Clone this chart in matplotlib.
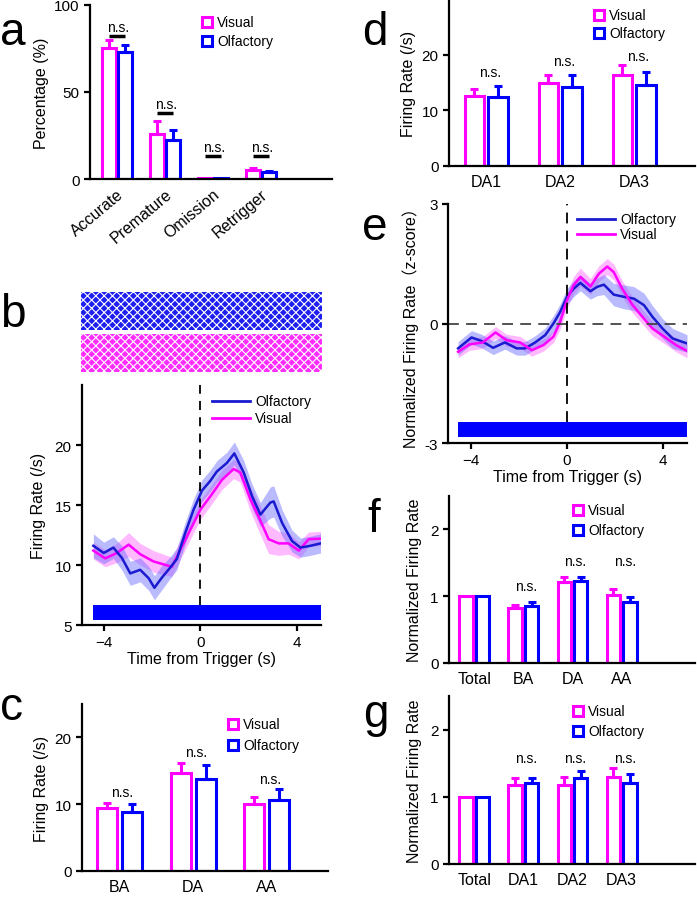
import numpy as np
import matplotlib
matplotlib.use('Agg')
import matplotlib.pyplot as plt
from matplotlib.lines import Line2D
from matplotlib.patches import Rectangle

plt.rcParams['font.family'] = ['Liberation Sans', 'Noto Sans CJK SC', 'DejaVu Sans']
plt.rcParams['axes.linewidth'] = 1.6
plt.rcParams['hatch.linewidth'] = 0.8

W, H = 697, 903
MAG = '#ff00ff'
BLU = '#0000ff'
BLU_LINE = '#1a1ad0'

# ---------------- data ----------------
# panel a
cats_a = ['Accurate', 'Premature', 'Omission', 'Retrigger']
vis_a = [75.5, 26.0, 0.5, 5.2]
vis_a_err = [4.5, 7.5, 0.0, 1.3]
olf_a = [73.0, 22.6, 0.5, 4.2]
olf_a_err = [4.0, 5.4, 0.0, 0.6]
ns_a = [82, 38, 13.2, 13.2]

# panel b (PSTH)
t_b_olf = [-4.43, -4.0, -3.6, -3.25, -2.9, -2.49, -2.14, -1.9, -1.59, -1.24, -0.97, -0.62, -0.28, 0.07,
           0.41, 0.69, 1.1, 1.41, 1.8, 2.14, 2.49, 2.9, 3.04, 3.39, 3.8, 4.15, 4.56, 4.98]
fr_b_olf = [11.6, 11.0, 11.45, 10.6, 9.3, 9.6, 8.9, 8.1, 8.95, 9.8, 10.5, 12.7, 14.6, 16.2,
            17.0, 17.8, 18.5, 19.3, 17.7, 15.75, 14.2, 15.2, 15.3, 13.5, 12.0, 11.45, 11.6, 11.8]
sem_b_olf = [1.0, 0.9, 0.9, 1.0, 1.0, 1.0, 1.0, 1.0, 1.0, 0.9, 0.9, 0.9, 0.9, 0.9,
             0.9, 0.9, 0.9, 0.95, 1.0, 1.0, 1.0, 1.3, 1.3, 1.1, 0.9, 0.8, 0.8, 0.8]
t_b_vis = [-4.43, -3.94, -3.46, -2.97, -2.49, -1.94, -1.18, -0.62, 0.0, 0.48, 0.9, 1.38, 1.66, 2.07,
           2.49, 2.83, 3.25, 3.66, 4.08, 4.49, 4.98]
fr_b_vis = [11.2, 10.55, 11.0, 11.7, 10.9, 10.3, 9.85, 12.1, 14.6, 15.9, 17.1, 18.0, 17.7, 15.5,
            13.7, 12.15, 11.8, 11.8, 11.2, 12.15, 12.2]
sem_b_vis = [0.7, 0.7, 0.8, 1.0, 0.9, 0.9, 0.8, 0.8, 0.8, 0.8, 0.8, 0.8, 0.8, 1.0,
             1.2, 1.2, 1.0, 0.9, 0.7, 0.6, 0.6]
b_trial_start, b_trial_end, b_trial_y0, b_trial_y1 = -4.44, 5.0, 5.4, 6.65

# panel c
cats_c = ['BA', 'DA', 'AA']
vis_c = [9.36, 14.6, 10.05]
vis_c_err = [0.8, 1.5, 1.05]
olf_c = [8.86, 13.8, 10.65]
olf_c_err = [1.1, 2.0, 1.65]
ns_c = [11.8, 17.8, 13.8]

# panel d
cats_d = ['DA1', 'DA2', 'DA3']
vis_d = [12.6, 15.0, 16.3]
vis_d_err = [1.2, 1.4, 1.9]
olf_d = [12.4, 14.2, 14.6]
olf_d_err = [1.9, 2.2, 2.3]
ns_d = [16.8, 18.9, 19.8]

# panel e (z-scored PSTH)
t_e_olf = [-4.53, -3.97, -3.55, -3.07, -2.58, -2.09, -1.74, -1.32, -0.9, -0.56, -0.28, 0.0, 0.28,
           0.56, 0.98, 1.26, 1.54, 1.95, 2.37, 2.79, 3.21, 3.56, 3.98, 4.4, 5.0]
z_e_olf = [-0.625, -0.35, -0.44, -0.61, -0.475, -0.625, -0.625, -0.475, -0.29, 0.0, 0.29, 0.67, 0.875,
           1.02, 0.81, 0.92, 0.975, 0.725, 0.67, 0.625, 0.46, 0.17, -0.125, -0.375, -0.5]
sem_e_olf = [0.17, 0.17, 0.17, 0.17, 0.17, 0.17, 0.17, 0.17, 0.18, 0.2, 0.2, 0.2, 0.2,
             0.2, 0.2, 0.22, 0.25, 0.28, 0.3, 0.3, 0.3, 0.28, 0.25, 0.25, 0.22]
t_e_vis = [-4.53, -4.06, -3.5, -2.97, -2.51, -1.95, -1.46, -0.97, -0.56, -0.28, 0.0, 0.28, 0.56,
           0.98, 1.33, 1.68, 1.95, 2.3, 2.72, 3.14, 3.56, 4.05, 4.54, 5.0]
z_e_vis = [-0.71, -0.525, -0.475, -0.225, -0.42, -0.475, -0.67, -0.54, -0.33, 0.04, 0.58, 0.96, 1.17,
           0.93, 1.25, 1.43, 1.29, 0.875, 0.475, 0.17, -0.125, -0.33, -0.54, -0.69]
sem_e_vis = [0.15, 0.15, 0.15, 0.15, 0.15, 0.15, 0.15, 0.15, 0.15, 0.18, 0.2, 0.22, 0.22,
             0.2, 0.2, 0.2, 0.2, 0.2, 0.2, 0.18, 0.18, 0.17, 0.17, 0.17]
e_trial_start, e_trial_end, e_trial_y0, e_trial_y1 = -4.53, 5.0, -2.86, -2.48

# panel f
cats_f = ['Total', 'BA', 'DA', 'AA']
vis_f = [1.0, 0.816, 1.22, 1.015]
vis_f_err = [0.0, 0.045, 0.07, 0.1]
olf_f = [1.0, 0.86, 1.23, 0.92]
olf_f_err = [0.0, 0.055, 0.06, 0.07]
ns_f = [None, 1.15, 1.53, 1.53]

# panel g
cats_g = ['Total', 'DA1', 'DA2', 'DA3']
vis_g = [1.0, 1.18, 1.18, 1.30]
vis_g_err = [0.0, 0.1, 0.12, 0.13]
olf_g = [1.0, 1.2, 1.28, 1.21]
olf_g_err = [0.0, 0.08, 0.11, 0.13]
ns_g = [None, 1.57, 1.57, 1.57]

# ---------------- figure ----------------
fig = plt.figure(figsize=(W / 100, H / 100), dpi=100)
TICK_FS = 11
LAB_FS = 11.5
LEG_FS = 10
NS_FS = 10


def add_ax(l, t, r, b):
    return fig.add_axes([l / W, 1 - b / H, (r - l) / W, (b - t) / H])


def style(ax, labelsize=TICK_FS):
    for s in ['top', 'right']:
        ax.spines[s].set_visible(False)
    ax.tick_params(axis='both', width=1.6, length=4, labelsize=labelsize, direction='out')


def fx(px):
    return px / W


def fy(py):
    return 1 - py / H


def bar_legend(x, y1, y2, fs=LEG_FS):
    for yy, lab, c in [(y1, 'Visual', MAG), (y2, 'Olfactory', BLU)]:
        fig.add_artist(Line2D([fx(x)], [fy(yy)], marker='s', ls='none', mfc='white', mec=c,
                              mew=2.2, ms=7, transform=fig.transFigure))
        fig.text(fx(x + 10), fy(yy), lab, fontsize=fs, va='center', ha='left')


def line_legend(x1, x2, y1, y2, fs=LEG_FS):
    for yy, lab, c in [(y1, 'Olfactory', BLU_LINE), (y2, 'Visual', MAG)]:
        fig.add_artist(Line2D([fx(x1), fx(x2)], [fy(yy), fy(yy)], color=c, lw=2,
                              transform=fig.transFigure))
        fig.text(fx(x2 + 5), fy(yy), lab, fontsize=fs, va='center', ha='left')


def bar_panel(ax, cats, vis, vis_err, olf, olf_err, width, off):
    x = np.arange(len(cats))
    ax.bar(x - off, vis, width, facecolor='white', edgecolor=MAG, linewidth=2.2, zorder=2)
    ax.bar(x + off, olf, width, facecolor='white', edgecolor=BLU, linewidth=2.2, zorder=2)
    for xs, v, e, c in [(x - off, vis, vis_err, MAG), (x + off, olf, olf_err, BLU)]:
        v = np.asarray(v, float)
        e = np.asarray(e, float)
        m = e > 0
        ax.errorbar(xs[m], v[m], yerr=[np.zeros(m.sum()), e[m]], fmt='none', ecolor=c,
                    elinewidth=2.2, capsize=3, capthick=2.2, zorder=3)
    ax.set_xticks(x)
    ax.set_xticklabels(cats)
    ax.tick_params(axis='x', length=0, pad=6)
    return x


def panel_label(ch, x, y):
    fig.text(fx(x), fy(y), ch, fontsize=33, va='baseline', ha='left')


# ---- panel a ----
ax = add_ax(90, 6, 332, 180)
style(ax)
bar_panel(ax, cats_a, vis_a, vis_a_err, olf_a, olf_a_err, 0.28, 0.167)
for i, yv in enumerate(ns_a):
    ax.hlines(yv, i - 0.167, i + 0.167, color='k', lw=2.5)
    ax.text(i + 0.02, yv + 5.3, 'n.s.', ha='center', va='center', fontsize=NS_FS)
ax.set_xticklabels(cats_a, rotation=40, ha='right', va='top', rotation_mode='anchor', fontsize=11.5)
ax.tick_params(axis='x', pad=5)
ax.set_xlim(-0.56, 4.48)
ax.set_ylim(0, 100)
ax.set_yticks([0, 50, 100])
ax.set_ylabel('Percentage (%)', fontsize=LAB_FS, labelpad=4)
bar_legend(207, 23, 42)
panel_label('a', 0, 45)

# ---- panel d ----
ax = add_ax(449, 0, 695, 167)
style(ax)
bar_panel(ax, cats_d, vis_d, vis_d_err, olf_d, olf_d_err, 0.26, 0.16)
for i, yv in enumerate(ns_d):
    ax.text(i + 0.05, yv, 'n.s.', ha='center', va='center', fontsize=NS_FS)
ax.set_xlim(-0.5, 2.82)
ax.set_ylim(0, 30)
ax.set_yticks([0, 10, 20])
ax.tick_params(axis='x', labelsize=11.5)
ax.set_ylabel('Firing Rate (/s)', fontsize=LAB_FS, labelpad=4)
bar_legend(599, 16, 34)
panel_label('d', 362, 45)

# ---- panel b raster (texture only) ----
for (t, b, face) in [(293, 331, '#1e1eee'), (335, 373, '#ff2cff')]:
    rax = add_ax(81, t, 322, b)
    rax.set_axis_off()
    rax.add_patch(Rectangle((0, 0), 1, 1, transform=rax.transAxes, facecolor=face,
                            edgecolor='white', linewidth=0, hatch='xxxx'))

# ---- panel b PSTH ----
ax = add_ax(82, 386, 321, 626)
style(ax)
ax.fill_between(t_b_vis, np.array(fr_b_vis) - sem_b_vis, np.array(fr_b_vis) + sem_b_vis,
                color='#ff66ff', alpha=0.45, lw=0)
ax.fill_between(t_b_olf, np.array(fr_b_olf) - sem_b_olf, np.array(fr_b_olf) + sem_b_olf,
                color='#6666ff', alpha=0.45, lw=0)
ax.plot(t_b_vis, fr_b_vis, color=MAG, lw=1.8)
ax.plot(t_b_olf, fr_b_olf, color=BLU_LINE, lw=1.8)
ax.fill_between([b_trial_start, b_trial_end], b_trial_y0, b_trial_y1, color=BLU, lw=0)
ax.vlines(0, b_trial_y1, 25, colors='k', linestyles=(0, (5, 4)), lw=1.3)
ax.set_xlim(-4.9, 5.0)
ax.set_ylim(5, 25)
ax.set_yticks([5, 10, 15, 20])
ax.set_xticks([-4, 0, 4])
ax.set_ylabel('Firing Rate (/s)', fontsize=LAB_FS, labelpad=6)
ax.set_xlabel('Time from Trigger (s)', fontsize=LAB_FS, labelpad=1)
line_legend(212, 250, 402, 419)
panel_label('b', 0, 327)

# ---- panel e ----
ax = add_ax(448, 205, 687, 444)
style(ax)
ax.fill_between(t_e_vis, np.array(z_e_vis) - sem_e_vis, np.array(z_e_vis) + sem_e_vis,
                color='#ff66ff', alpha=0.45, lw=0)
ax.fill_between(t_e_olf, np.array(z_e_olf) - sem_e_olf, np.array(z_e_olf) + sem_e_olf,
                color='#6666ff', alpha=0.45, lw=0)
ax.plot(t_e_olf, z_e_olf, color=BLU_LINE, lw=1.8)
ax.plot(t_e_vis, z_e_vis, color=MAG, lw=1.8)
ax.fill_between([e_trial_start, e_trial_end], e_trial_y0, e_trial_y1, color=BLU, lw=0)
ax.axhline(0, color='#444444', ls=(0, (6, 4)), lw=1.3)
ax.vlines(0, e_trial_y1, 3, colors='k', linestyles=(0, (6, 4)), lw=1.3)
ax.set_xlim(-4.95, 5.0)
ax.set_ylim(-3, 3)
ax.set_yticks([-3, 0, 3])
ax.set_yticklabels(['-3', '0', '3'])
ax.set_xticks([-4, 0, 4])
ax.set_ylabel('Normalized Firing Rate（z-score）', fontsize=LAB_FS, labelpad=4)
ax.set_xlabel('Time from Trigger (s)', fontsize=LAB_FS, labelpad=1)
line_legend(577, 615, 220, 235)
panel_label('e', 362, 240)

# ---- panel c ----
ax = add_ax(82, 705, 328, 872)
style(ax)
bar_panel(ax, cats_c, vis_c, vis_c_err, olf_c, olf_c_err, 0.27, 0.17)
for i, yv in enumerate(ns_c):
    ax.text(i + 0.04, yv, 'n.s.', ha='center', va='center', fontsize=NS_FS)
ax.set_xlim(-0.51, 2.83)
ax.set_ylim(0, 25)
ax.set_yticks([0, 10, 20])
ax.tick_params(axis='x', labelsize=11.5)
ax.set_ylabel('Firing Rate (/s)', fontsize=LAB_FS, labelpad=4)
bar_legend(233, 725, 746)
panel_label('c', 0, 720)

# ---- panel f ----
ax = add_ax(449, 497, 695, 664)
style(ax)
bar_panel(ax, cats_f, vis_f, vis_f_err, olf_f, olf_f_err, 0.27, 0.167)
for i, yv in enumerate(ns_f):
    if yv is not None:
        ax.text(i + 0.06, yv, 'n.s.', ha='center', va='center', fontsize=NS_FS)
ax.set_xlim(-0.51, 4.49)
ax.set_ylim(0, 2.5)
ax.set_yticks([0, 1, 2])
ax.tick_params(axis='x', labelsize=11.5)
ax.set_ylabel('Normalized Firing Rate', fontsize=LAB_FS, labelpad=6)
bar_legend(578, 511, 531)
panel_label('f', 367, 532)

# ---- panel g ----
ax = add_ax(449, 697, 695, 865)
style(ax)
bar_panel(ax, cats_g, vis_g, vis_g_err, olf_g, olf_g_err, 0.27, 0.167)
for i, yv in enumerate(ns_g):
    if yv is not None:
        ax.text(i + 0.06, yv, 'n.s.', ha='center', va='center', fontsize=NS_FS)
ax.set_xlim(-0.51, 4.49)
ax.set_ylim(0, 2.5)
ax.set_yticks([0, 1, 2])
ax.tick_params(axis='x', labelsize=11.5)
ax.set_ylabel('Normalized Firing Rate', fontsize=LAB_FS, labelpad=6)
bar_legend(578, 712, 732)
panel_label('g', 363, 727)

fig.savefig('out.png', dpi=100)
